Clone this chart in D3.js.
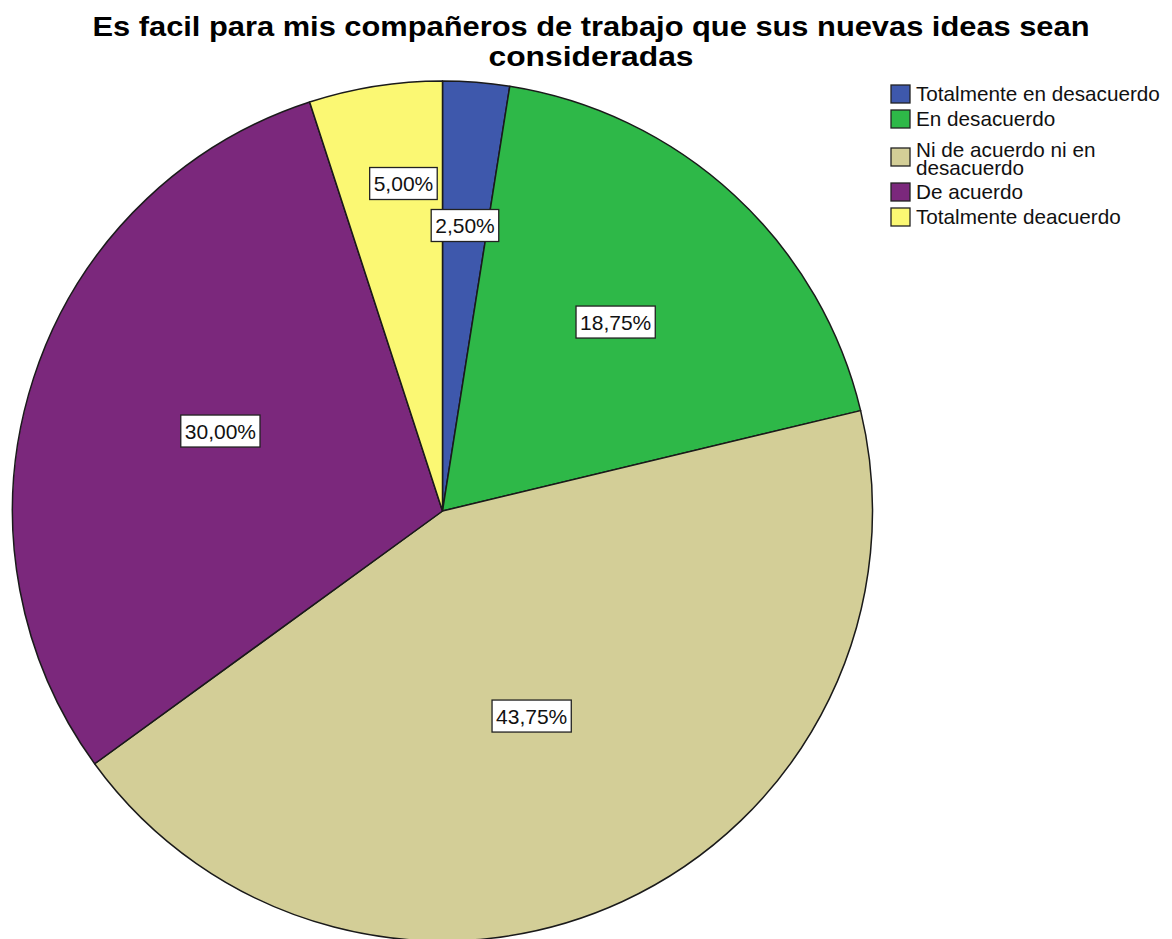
<!DOCTYPE html>
<html>
<head>
<meta charset="utf-8">
<script src="https://cdn.jsdelivr.net/npm/d3@7"></script>
<style>
  html, body { margin: 0; padding: 0; background: #fff; }
  svg { display: block; }
  text { font-family: "Liberation Sans", Arial, sans-serif; }
</style>
</head>
<body>
<svg id="chart" width="1172" height="939"></svg>
<script>
// ---- data ----
const titleLines = ["Es facil para mis compañeros de trabajo que sus nuevas ideas sean", "consideradas"];
const categories = ["Totalmente en desacuerdo", "En desacuerdo", "Ni de acuerdo ni en desacuerdo", "De acuerdo", "Totalmente deacuerdo"];
const legendLines = [["Totalmente en desacuerdo"], ["En desacuerdo"], ["Ni de acuerdo ni en", "desacuerdo"], ["De acuerdo"], ["Totalmente deacuerdo"]];
const percents = [2.50, 18.75, 43.75, 30.00, 5.00];
const colors = ["#3E58AC", "#2EB848", "#D3CE97", "#7B287C", "#FBF873"];

// ---- layout (label placement: radius factor, angle shift in degrees) ----
const labelLayout = [[0.666, 0], [0.596, -0.25], [0.52, 1.25], [0.549, 1.8], [0.767, 2.2]];

const svg = d3.select("#chart");
const cx = 442.5, cy = 511, R = 430;

// title
svg.append("g").selectAll("text").data(titleLines).join("text")
  .attr("x", 591).attr("y", (d, i) => 36 + i * 30)
  .attr("text-anchor", "middle")
  .attr("font-size", 27).attr("font-weight", "bold").attr("fill", "#000")
  .attr("textLength", (d, i) => i === 0 ? 997 : 205)
  .attr("lengthAdjust", "spacingAndGlyphs")
  .text(d => d);

const data = categories.map((c, i) => ({ cat: c, value: percents[i], color: colors[i], idx: i }));
const pie = d3.pie().value(d => d.value).sort(null);
const arcs = pie(data);
const arc = d3.arc().innerRadius(0).outerRadius(R);

const g = svg.append("g").attr("transform", `translate(${cx},${cy})`);
g.selectAll("path").data(arcs).join("path")
  .attr("d", arc)
  .attr("fill", d => d.data.color)
  .attr("stroke", "#1a1a1a").attr("stroke-width", 1.5).attr("stroke-linejoin", "round");

const fmt = v => v.toFixed(2).replace(".", ",") + "%";
const lbl = g.selectAll("g.lbl").data(arcs).join("g").attr("class", "lbl")
  .attr("transform", d => {
    const [rf, da] = labelLayout[d.data.idx];
    const a = (d.startAngle + d.endAngle) / 2 + da * Math.PI / 180;
    const r = rf * R;
    return `translate(${r * Math.sin(a)},${-r * Math.cos(a)})`;
  });
lbl.each(function(d) {
  const sel = d3.select(this);
  const t = sel.append("text").attr("text-anchor", "middle").attr("dy", "0.36em")
    .attr("font-size", 21).attr("fill", "#111").text(fmt(d.data.value));
  const w = t.node().getComputedTextLength() + 8;
  sel.insert("rect", "text").attr("x", -w / 2).attr("y", -16).attr("width", w).attr("height", 32)
    .attr("fill", "#fff").attr("stroke", "#222").attr("stroke-width", 1.3);
});

// legend
const rowY = [94, 119, 157, 192, 217];
const leg = svg.append("g").selectAll("g").data(data).join("g")
  .attr("transform", (d, i) => `translate(891,${rowY[i]})`);
leg.append("rect").attr("x", 0).attr("y", -9).attr("width", 19).attr("height", 18)
  .attr("fill", d => d.color).attr("stroke", "#222").attr("stroke-width", 1.3);
leg.each(function(d, i) {
  const lines = legendLines[i];
  const sel = d3.select(this);
  const n = lines.length;
  lines.forEach((ln, j) => {
    sel.append("text").attr("x", 25).attr("y", n > 1 ? (j === 0 ? 0 : 18) : 7)
      .attr("font-size", 20.7).attr("fill", "#111").text(ln);
  });
});
</script>
</body>
</html>
